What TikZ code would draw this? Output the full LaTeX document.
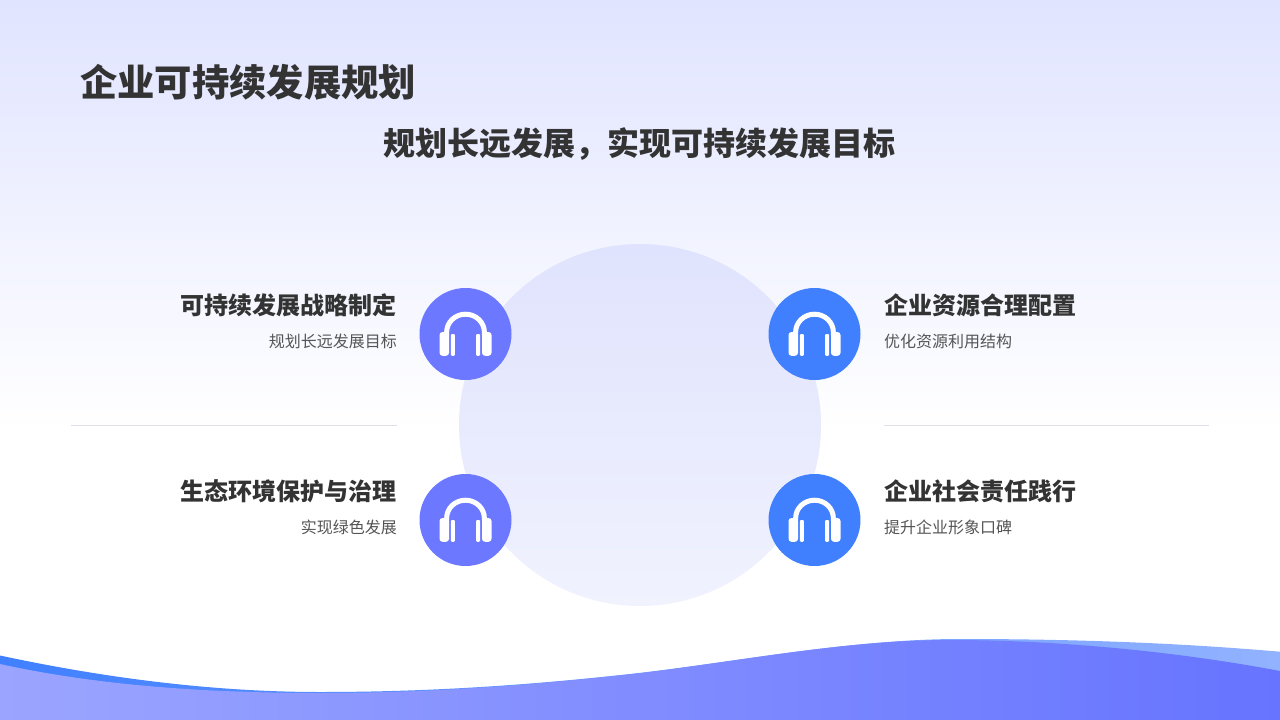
\documentclass[tikz,border=0pt]{standalone}
\usepackage{fontspec}
\setmainfont{Noto Sans CJK SC}
\usetikzlibrary{positioning}
\definecolor{txt}{HTML}{333333}
\definecolor{sub}{HTML}{555555}
\definecolor{purp}{HTML}{6C78FF}
\definecolor{blu}{HTML}{4080FF}
\definecolor{bgtop}{RGB}{224,228,255}
\definecolor{cirtop}{RGB}{224,227,253}
\definecolor{cirbot}{RGB}{240,242,254}
\definecolor{backr}{RGB}{146,178,255}
\definecolor{frontl}{RGB}{155,165,255}
\definecolor{frontr}{RGB}{102,116,255}
\definecolor{rulec}{RGB}{222,225,236}
\tikzset{
  t1/.style={inner sep=0,text=txt,font=\fontsize{37.3}{40}\selectfont\bfseries},
  t2/.style={inner sep=0,text=txt,font=\fontsize{32}{36}\selectfont\bfseries},
  t3/.style={inner sep=0,text=txt,font=\fontsize{24}{28}\selectfont\bfseries},
  t4/.style={inner sep=0,text=sub,font=\fontsize{16}{20}\selectfont},
  disc/.style={circle,minimum size=92pt,inner sep=0,fill=#1},
  rulel/.style={draw=rulec,line width=0.8pt},
  headset/.pic={
    \draw[white,line width=5pt] (-18.9,1) -- (-18.9,-1.5) .. controls (-18.9,-12) and (-10.3,-19.8) .. (0,-19.8) .. controls (10.3,-19.8) and (18.9,-12) .. (18.9,-1.5) -- (18.9,1);
    \fill[white,rounded corners=3pt] (-26,-2) rectangle (-16.5,21.8);
    \fill[white,rounded corners=3pt] (16.5,-2) rectangle (26,21.8);
    \fill[white,rounded corners=1pt] (-14.6,0) rectangle (-10.6,21.8);
    \fill[white,rounded corners=1pt] (10.6,0) rectangle (14.6,21.8);
  }
}
\begin{document}
\begin{tikzpicture}[x=1pt,y=-1pt]
\useasboundingbox (0,0) rectangle (1280,720);
\fill[white] (0,0) rectangle (1280,720);
\shade[top color=bgtop,bottom color=white] (0,0) rectangle (1280,430);
\shade[top color=cirtop,bottom color=cirbot] (640,425) circle[radius=181];
% waves
\begin{scope}
\clip (0,0) rectangle (1280,720);
\shade[left color=blu,right color=backr]
  (0,655.5) .. controls (100,677) and (210,692) .. (320,692) .. controls (430,692) and (530,685) .. (630,674) .. controls (730,663) and (850,639) .. (960,639) .. controls (1090,639) and (1190,644) .. (1280,651.7) -- (1280,720) -- (0,720) -- cycle;
\shade[left color=frontl,right color=frontr]
  (0,664) .. controls (100,686) and (210,693) .. (320,693) .. controls (430,693) and (530,685.3) .. (630,674.3) .. controls (730,663.3) and (840,640) .. (950,640) .. controls (1060,640) and (1180,652) .. (1280,671) -- (1280,720) -- (0,720) -- cycle;
\end{scope}
% headings
\node[t1,anchor=west] (title) at (80,82.5) {企业可持续发展规划};
\node[t2] (subtitle) at (639.5,144) {规划长远发展，实现可持续发展目标};
% rules
\coordinate (la) at (71,425.5); \coordinate (lb) at (397,425.5);
\coordinate (ra) at (884,425.5); \coordinate (rb) at (1209,425.5);
\draw[rulel] (la) -- (lb);
\draw[rulel] (ra) -- (rb);
% discs
\node[disc=purp] (d1) at (465.5,334) {};
\node[disc=blu] (d2) at (814.5,334) {};
\node[disc=purp] (d3) at (465.5,520) {};
\node[disc=blu] (d4) at (814.5,520) {};
\pic at (d1.center) {headset};
\pic at (d2.center) {headset};
\pic at (d3.center) {headset};
\pic at (d4.center) {headset};
% labels
\node[t3,anchor=east] (a1) at (397,305) {可持续发展战略制定};
\node[t4,anchor=east] (b1) at (397,341) {规划长远发展目标};
\node[t3,anchor=west] (a2) at (884,305) {企业资源合理配置};
\node[t4,anchor=west] (b2) at (884,341) {优化资源利用结构};
\node[t3,anchor=east] (a3) at (397,491) {生态环境保护与治理};
\node[t4,anchor=east] (b3) at (397,527) {实现绿色发展};
\node[t3,anchor=west] (a4) at (884,491) {企业社会责任践行};
\node[t4,anchor=west] (b4) at (884,527) {提升企业形象口碑};
\end{tikzpicture}
\end{document}
